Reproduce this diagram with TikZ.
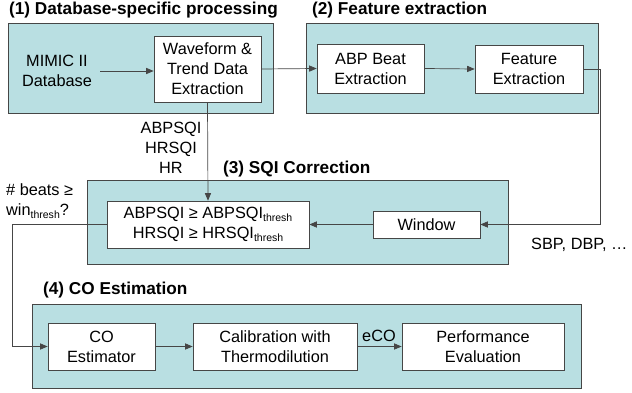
\documentclass[tikz,border=0pt]{standalone}
\usepackage{fontspec}
\setmainfont{Liberation Sans}
\usepackage{tikz}
\usetikzlibrary{arrows}
\definecolor{panel}{RGB}{185,223,226}
\definecolor{edge}{RGB}{70,70,70}
\newcommand{\thr}{\raisebox{-3pt}{\fontsize{10.5}{10.5}\selectfont thresh}}
\tikzset{
every node/.style={font=\fontsize{16.3}{20}\selectfont, align=center, inner sep=0pt},
group/.style={draw=edge, fill=panel, line width=0.9pt},
block/.style={draw=edge, fill=white, line width=0.8pt},
title/.style={anchor=west, font=\fontsize{17.2}{20}\selectfont\bfseries},
arr/.style={-triangle 45, draw=edge, line width=0.7pt}
}

\begin{document}
\begin{tikzpicture}[x=1pt, y=-1pt]
\useasboundingbox (0,0) rectangle (632,393);
% panels
\node[group, minimum width=265pt, minimum height=90pt] (g1) at (140.5,68) {};
\node[group, minimum width=292pt, minimum height=90pt] (g2) at (452,68) {};
\node[group, minimum width=421pt, minimum height=84pt] (g3) at (297.5,222) {};
\node[group, minimum width=549pt, minimum height=84pt] (g4) at (306.5,346) {};
\node[title] (t1) at (9,10) {(1) Database-specific processing};
\node[title] (t2) at (312,10) {(2) Feature extraction};
\node[title] (t3) at (223,169) {(3) SQI Correction};
\node[title] (t4) at (43,290) {(4) CO Estimation};

% blocks
\node (mimic) at (57,71) {MIMIC II\\Database};
\node[block, minimum width=107pt, minimum height=66pt] (wave) at (207.5,69) {Waveform \&\\Trend Data\\Extraction};
\node[block, minimum width=107pt, minimum height=49pt] (abp) at (370.5,68.5) {ABP Beat\\Extraction};
\node[block, minimum width=108pt, minimum height=48pt] (feat) at (529,69) {Feature\\Extraction};
\node[block, minimum width=202pt, minimum height=47pt] (sqi) at (208,224.5) {ABPSQI ≥ ABPSQI\thr\\HRSQI ≥ HRSQI\thr};
\node[block, minimum width=107pt, minimum height=27pt] (win) at (426.5,224.5) {Window};
\node[block, minimum width=107pt, minimum height=47pt] (coest) at (101.5,346.5) {CO\\Estimator};
\node[block, minimum width=164pt, minimum height=47pt] (calib) at (275,346.5) {Calibration with\\Thermodilution};
\node[block, minimum width=162pt, minimum height=47pt] (perf) at (483,346.5) {Performance\\Evaluation};

% labels
\node (sqis) at (171,148) {ABPSQI\\HRSQI\\HR};
\node[anchor=west, align=left] (beats) at (6,201) {\# beats ≥\\win\thr?};
\node[anchor=west] (feats) at (531,245) {SBP, DBP, \dots};
\node (eco) at (379,336) {eCO};

% connectors
\draw[arr] (mimic.east) ++(8,0) coordinate (m0) -- (wave.west |- m0);
\draw[arr] (wave.east) -- (abp.west);
\draw[arr] (abp.east) -- (feat.west);
\draw[arr] (feat.east) -- ++(17,0) |- (win.east);
\draw[arr] (win.west) -- (sqi.east);
\draw[arr] (wave.south) -- (sqi.north);
\draw[arr] (sqi.west) -- ++(-94,0) |- (coest.west);
\draw[arr] (coest.east) -- (calib.west);
\draw[arr] (calib.east) -- (perf.west);
\end{tikzpicture}
\end{document}
